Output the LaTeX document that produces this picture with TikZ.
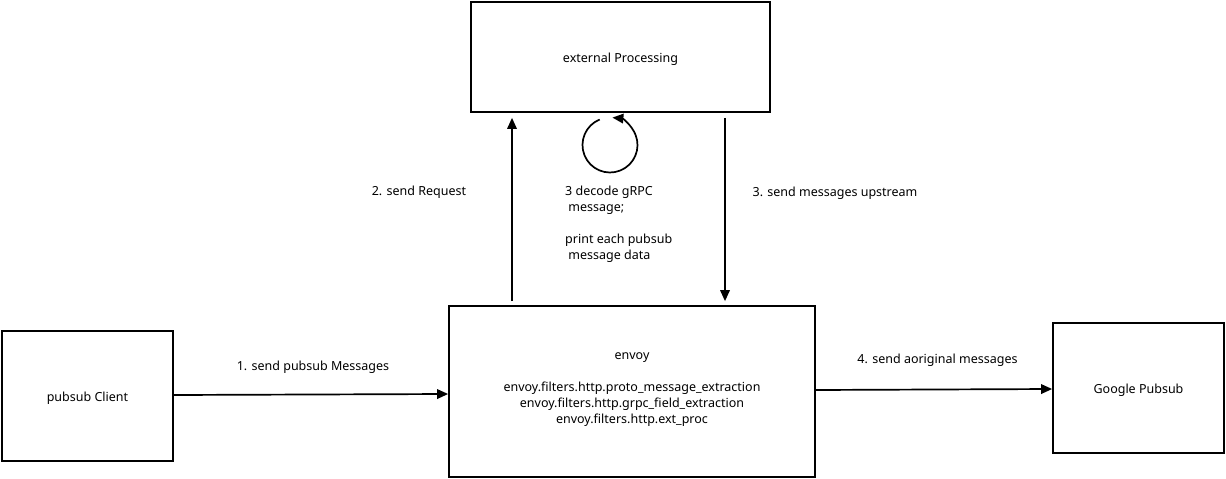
\documentclass[tikz,border=0pt]{standalone}
\usepackage{fontspec}
\setmainfont{Noto Sans}
\usetikzlibrary{arrows.meta,calc}
\begin{document}
\begin{tikzpicture}[x=1pt,y=1pt,
  every node/.style={font=\fontsize{12.5}{16}\selectfont, inner sep=0pt},
  box/.style={draw, line width=1.7pt, align=center},
  arr/.style={line width=1.7pt, -{Triangle[length=11pt,width=9.5pt]}},
  lbl/.style={align=center}]
\useasboundingbox (0,0) rectangle (1226,-479);
\node[box, minimum width=299pt, minimum height=110pt] (ext) at (620.5,-57) {\raisebox{-5pt}[0pt][0pt]{external Processing}};
\node[box, minimum width=366pt, minimum height=171pt] (envoy) at (632,-391.5) {\raisebox{0.5pt}[0pt][0pt]{\begin{tabular}{@{}c@{}}envoy\\[16pt]envoy.filters.http.proto\_message\_extraction\\envoy.filters.http.grpc\_field\_extraction\\envoy.filters.http.ext\_proc\end{tabular}}};
\node[box, minimum width=171pt, minimum height=130pt] (client) at (87.5,-396) {\raisebox{-5.5pt}[0pt][0pt]{pubsub Client}};
\node[box, minimum width=171pt, minimum height=130pt] (google) at (1138.5,-388) {\raisebox{-5.5pt}[0pt][0pt]{Google Pubsub}};
% connectors
\draw[arr] (client.east |- 0,-395) -- (envoy.west |- 0,-394);
\draw[arr, shorten <=4pt, shorten >=5pt] (envoy.north -| 512,0) -- (ext.south -| 512,0);
\draw[arr, shorten <=5pt, shorten >=4pt] (ext.south -| 725,0) -- (envoy.north -| 725,0);
\draw[arr] (envoy.east |- 0,-390) -- (google.west |- 0,-389);
\coordinate (loopc) at (610,-145);
\draw[arr] ($(loopc)+(112:27.5)$) arc[start angle=112, end angle=445, radius=27.5];
% labels
\node[lbl] (l1) at (313,-367.5) {1. send pubsub Messages};
\node[lbl] (l2) at (419,-192.5) {2. send Request};
\node[lbl] (l3) at (835,-193.5) {3. send messages upstream};
\node[lbl] (l4) at (937.5,-360.5) {4. send aoriginal messages};
\node[align=left, anchor=west] (l5) at (565,-224.5) {3 decode gRPC\\\ message;\\[16pt]print each pubsub\\\ message data};
\end{tikzpicture}
\end{document}
